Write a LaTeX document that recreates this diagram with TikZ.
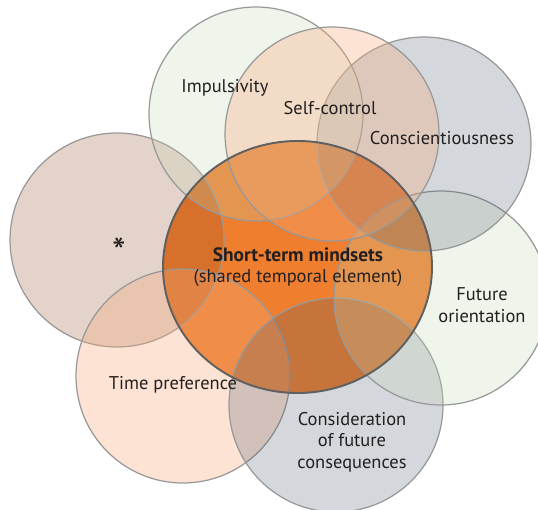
\documentclass[tikz,border=0pt]{standalone}
\usepackage{fontspec}
\setmainfont{PT Sans}
\definecolor{core}{RGB}{239,127,47}
\definecolor{peach}{RGB}{245,170,124}
\definecolor{slate}{RGB}{70,83,104}
\definecolor{sage}{RGB}{196,216,180}
\definecolor{umber}{RGB}{135,65,30}
\definecolor{rim}{RGB}{152,152,152}
\definecolor{rimdark}{RGB}{96,96,96}
\definecolor{ink}{RGB}{35,31,32}

\begin{document}
\begin{tikzpicture}[x=0.02cm,y=-0.02cm,
    font=\fontsize{10.5}{12.2}\selectfont,text=ink,
    venn/.style={draw=rim,line width=0.7pt}]
  \useasboundingbox (0,0) rectangle (538,510);
  \clip (0,0) rectangle (538,510);
  % shared core, filled first so the outer circles tint it
  \fill[core] (297.5,267) ellipse [x radius=134.5,y radius=126];
  \filldraw[venn,fill=umber,fill opacity=0.23] (117,240) circle [radius=107];
  \filldraw[venn,fill=peach,fill opacity=0.33] (183,376) circle [radius=107];
  \filldraw[venn,fill=slate,fill opacity=0.23] (336,405) circle [radius=107];
  \filldraw[venn,fill=sage,fill opacity=0.25] (441,298) circle [radius=107];
  \filldraw[venn,fill=slate,fill opacity=0.23] (424,144) circle [radius=107];
  \filldraw[venn,fill=sage,fill opacity=0.25] (256,114) circle [radius=107];
  \filldraw[venn,fill=peach,fill opacity=0.33] (332,134) circle [radius=107];
  \draw[rimdark,line width=1.1pt] (297.5,267) ellipse [x radius=134.5,y radius=126];
  % labels
  \node (imp) at (225,88) {Impulsivity};
  \node (self) at (330,108) {Self-control};
  \node (consc) at (442,138) {Conscientiousness};
  \node (ast) at (119,252) {\fontsize{22}{22}\selectfont *};
  \node (stm) at (298,255) {\fontsize{11}{12.2}\selectfont\bfseries Short-term mindsets};
  \node (shared) at (298,278) {(shared temporal element)};
  \node[align=center] (fut) at (482,305) {Future\\orientation};
  \node (pref) at (173,385) {Time preference};
  \node[align=center] (cfc) at (352,442) {Consideration\\of future\\consequences};
\end{tikzpicture}
\end{document}
